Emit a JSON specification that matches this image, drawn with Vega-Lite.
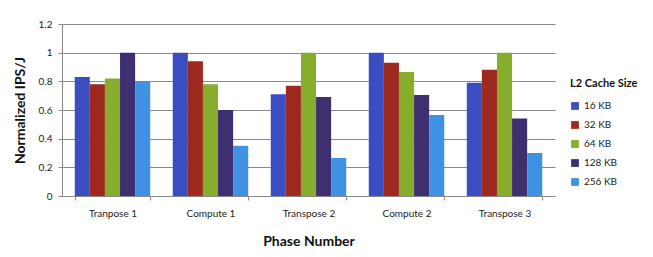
{
  "$schema": "https://vega.github.io/schema/vega-lite/v6.json",
  "autosize": "none",
  "width": 493,
  "height": 172,
  "padding": {"left": 62, "top": 24, "right": 98, "bottom": 61},
  "background": "white",
  "config": {
    "font": "Lato",
    "view": {"stroke": null}
  },
  "data": {
    "values": [
      {"phase": "Tranpose 1", "cache": "16 KB", "v": 0.83},
      {"phase": "Tranpose 1", "cache": "32 KB", "v": 0.78},
      {"phase": "Tranpose 1", "cache": "64 KB", "v": 0.82},
      {"phase": "Tranpose 1", "cache": "128 KB", "v": 1.0},
      {"phase": "Tranpose 1", "cache": "256 KB", "v": 0.80},
      {"phase": "Compute 1", "cache": "16 KB", "v": 1.0},
      {"phase": "Compute 1", "cache": "32 KB", "v": 0.94},
      {"phase": "Compute 1", "cache": "64 KB", "v": 0.78},
      {"phase": "Compute 1", "cache": "128 KB", "v": 0.60},
      {"phase": "Compute 1", "cache": "256 KB", "v": 0.35},
      {"phase": "Transpose 2", "cache": "16 KB", "v": 0.71},
      {"phase": "Transpose 2", "cache": "32 KB", "v": 0.77},
      {"phase": "Transpose 2", "cache": "64 KB", "v": 1.0},
      {"phase": "Transpose 2", "cache": "128 KB", "v": 0.69},
      {"phase": "Transpose 2", "cache": "256 KB", "v": 0.265},
      {"phase": "Compute 2", "cache": "16 KB", "v": 1.0},
      {"phase": "Compute 2", "cache": "32 KB", "v": 0.93},
      {"phase": "Compute 2", "cache": "64 KB", "v": 0.865},
      {"phase": "Compute 2", "cache": "128 KB", "v": 0.705},
      {"phase": "Compute 2", "cache": "256 KB", "v": 0.565},
      {"phase": "Transpose 3", "cache": "16 KB", "v": 0.79},
      {"phase": "Transpose 3", "cache": "32 KB", "v": 0.88},
      {"phase": "Transpose 3", "cache": "64 KB", "v": 1.0},
      {"phase": "Transpose 3", "cache": "128 KB", "v": 0.54},
      {"phase": "Transpose 3", "cache": "256 KB", "v": 0.30}
    ]
  },
  "mark": {"type": "bar"},
  "encoding": {
    "x": {
      "field": "phase", "type": "nominal", "sort": null,
      "scale": {"paddingInner": 0.23, "paddingOuter": 0.13},
      "axis": {
        "title": "Phase Number", "titleFontSize": 14, "titleFontWeight": "bold", "titleColor": "#111",
        "titlePadding": 16, "labelAngle": 0, "labelFontSize": 10, "labelColor": "#222", "labelPadding": 8,
        "tickBand": "extent", "domainColor": "#888", "tickColor": "#888", "tickSize": 4
      }
    },
    "xOffset": {"field": "cache", "type": "nominal", "sort": ["16 KB", "32 KB", "64 KB", "128 KB", "256 KB"], "scale": {"paddingInner": 0}},
    "y": {
      "field": "v", "type": "quantitative",
      "scale": {"domain": [0, 1.2]},
      "axis": {
        "title": "Normalized IPS/J", "titleFontSize": 14, "titleFontWeight": "bold", "titleColor": "#111",
        "titleX": -42, "titleY": 86, "titleAnchor": "middle", "titleBaseline": "middle",
        "values": [0, 0.2, 0.4, 0.6, 0.8, 1, 1.2], "format": "~g",
        "labelFontSize": 10, "labelColor": "#222", "labelPadding": 6,
        "grid": true, "gridColor": "#8a8a8a", "domainColor": "#888", "tickColor": "#888", "tickSize": 4
      }
    },
    "color": {
      "field": "cache", "type": "nominal",
      "sort": ["16 KB", "32 KB", "64 KB", "128 KB", "256 KB"],
      "scale": {"domain": ["16 KB", "32 KB", "64 KB", "128 KB", "256 KB"], "range": ["#3a4ec2", "#9e2a1f", "#86ad2b", "#3d2f70", "#3f92e3"]},
      "legend": {
        "title": "L2 Cache Size", "titleFontSize": 11, "titleFontWeight": "bold", "titleColor": "#111",
        "orient": "none", "legendX": 508, "legendY": 54, "symbolType": "square", "symbolSize": 60,
        "labelFontSize": 10, "labelColor": "#222", "rowPadding": 9, "titlePadding": 12
      }
    }
  }
}
